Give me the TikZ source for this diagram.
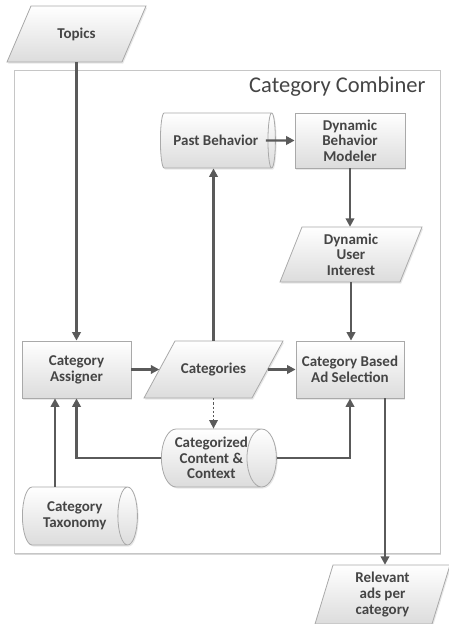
\documentclass[tikz,border=0pt]{standalone}
\usepackage{fontspec}
\setmainfont{Carlito}
\usetikzlibrary{arrows.meta,shapes.geometric,shadows}

\definecolor{ink}{HTML}{5A5A5A}
\definecolor{txt}{HTML}{454545}
\definecolor{edge}{HTML}{A9A9A9}
\definecolor{boxbot}{HTML}{DCDCDC}
\definecolor{frame}{HTML}{C6C6C6}

% parallelogram (data) box: name, cx, cy, width, height, slant, text
\newcommand\slantbox[7]{%
  \path[boxfill] ({#2-#4/2-#6/2},{#3+#5/2}) -- ({#2+#4/2-#6/2},{#3+#5/2})
    -- ({#2+#4/2+#6/2},{#3-#5/2}) -- ({#2-#4/2+#6/2},{#3-#5/2}) -- cycle;
  \node[lbl, minimum width=#4pt, minimum height=#5pt, inner sep=0pt] (#1) at (#2,#3) {#7};
}

\begin{document}
\begin{tikzpicture}[x=1pt,y=-1pt,
  lbl/.style={font=\fontsize{15}{15.7}\selectfont\bfseries, text=txt, align=center},
  boxfill/.style={draw=edge, line width=0.8pt, top color=white, bottom color=boxbot,
    drop shadow={opacity=0.18, shadow xshift=1.2pt, shadow yshift=-1.5pt}},
  procbox/.style={lbl, boxfill, rectangle, inner sep=0pt},
  % cylinder: minimum width is the diameter, minimum height the length
  store/.style={lbl, boxfill, cylinder, shape aspect=0.7, inner ysep=0pt, inner xsep=-6pt,
    minimum height=115pt, anchor=west},
  flow/.style={draw=ink, line width=2.2pt, -{Triangle[length=8.5pt,width=8.5pt]}},
]
\useasboundingbox (0,0) rectangle (448,624);

% container
\path[draw=frame, line width=1pt, fill=white,
  drop shadow={opacity=0.3, shadow xshift=1.2pt, shadow yshift=-1.5pt}]
  (14,70) rectangle (440,553);
\node[font=\fontsize{22.5}{26}\selectfont, text=txt, anchor=east] (title) at (429,87) {Category Combiner};

% data boxes
\slantbox{topics}{76.5}{34}{115}{56}{24}{Topics}
\slantbox{dui}{351}{254.5}{120}{55}{22}{Dynamic\\User\\Interest}
\slantbox{cat}{213.5}{369.5}{108}{57}{31}{Categories}
\slantbox{rel}{382.5}{594.5}{117}{59}{18}{Relevant\\ads per\\category}

% processes
\node[procbox, minimum width=110pt, minimum height=55pt] (dbm) at (350,140.5) {Dynamic\\Behavior\\Modeler};
\node[procbox, minimum width=109pt, minimum height=57pt] (ca) at (76.5,369.5) {Category\\Assigner};
\node[procbox, minimum width=108pt, minimum height=57pt] (cbas) at (350,369.5) {Category Based\\Ad Selection};

% stores
\node[store, minimum width=55pt] (pb) at (160,140.5) {Past Behavior};
\node[store, minimum width=58pt] (ccc) at (161,458) {Categorized\\Content \&\\Context};
\node[store, minimum width=58pt] (tax) at (22,516) {Category\\Taxonomy};

% flows
\draw[flow] (topics.south) -- (ca.north);
\draw[flow] ([xshift=-10pt]pb.east) -- (dbm.west);
\draw[flow] (dbm.south) -- (dbm.south |- dui.north);
\draw[flow] (dui.south) -- (dui.south |- cbas.north);
\draw[flow] (ca.east) -- (cat.west);
\draw[flow] (cat.east) -- (cbas.west);
\draw[flow] (cat.north) -- (cat.north |- pb.south);
\draw[flow, dotted, line width=1.6pt] (cat.south) -- (cat.south |- ccc.north);
\draw[flow] (ccc.west) -| (ca.south);
\draw[flow] (ccc.east) -| (cbas.south);
\draw[flow] ([xshift=-21.5pt]ca.south |- tax.north) -- ([xshift=-21.5pt]ca.south);
\draw[flow] ([xshift=35pt]cbas.south) -- ([xshift=35pt]cbas.south |- rel.north);
\end{tikzpicture}
\end{document}
